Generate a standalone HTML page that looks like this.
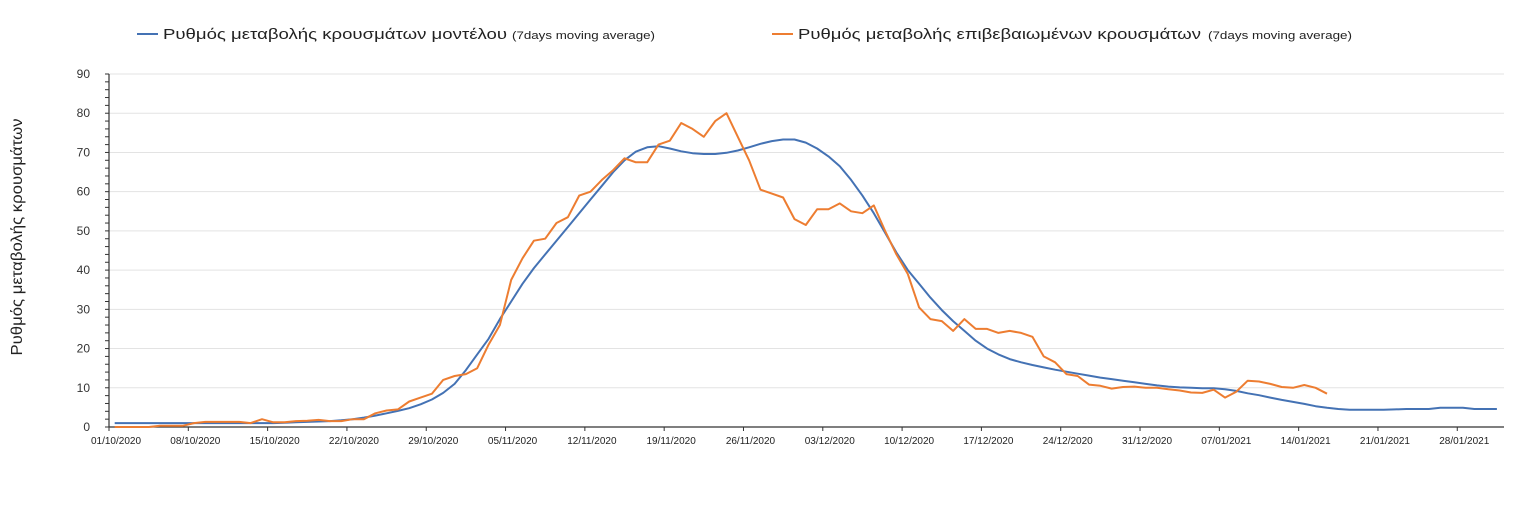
<!DOCTYPE html>
<html><head><meta charset="utf-8"><style>
body{margin:0;background:#fff;width:1540px;height:510px;overflow:hidden;font-family:"Liberation Sans",sans-serif}
svg text{font-family:"Liberation Sans","DejaVu Sans",sans-serif}
</style></head><body>
<svg id="chart" width="1540" height="510" xmlns="http://www.w3.org/2000/svg">
<g>
<g>
<line x1="137" y1="34" x2="158" y2="34" stroke="#4472b4" stroke-width="2"/>
<text x="163" y="39" font-size="15" fill="#222" textLength="344" lengthAdjust="spacingAndGlyphs">Ρυθμός μεταβολής κρουσμάτων μοντέλου</text>
<text x="512" y="39" font-size="11" fill="#222" textLength="143" lengthAdjust="spacingAndGlyphs">(7days moving average)</text>
</g>
<g>
<line x1="772" y1="34" x2="793" y2="34" stroke="#ed7d31" stroke-width="2"/>
<text x="798" y="39" font-size="15" fill="#222" textLength="403" lengthAdjust="spacingAndGlyphs">Ρυθμός μεταβολής επιβεβαιωμένων κρουσμάτων</text>
<text x="1208" y="39" font-size="11" fill="#222" textLength="144" lengthAdjust="spacingAndGlyphs">(7days moving average)</text>
</g>
</g>
<text transform="translate(22,237) rotate(-90)" text-anchor="middle" font-size="16" fill="#222" textLength="237" lengthAdjust="spacingAndGlyphs">Ρυθμός μεταβολής κρουσμάτων</text>
<g id="grid"></g><g id="axes"></g><g id="series"></g>
</svg>
<script>
const xTickLabels=["01/10/2020","08/10/2020","15/10/2020","22/10/2020","29/10/2020","05/11/2020","12/11/2020","19/11/2020","26/11/2020","03/12/2020","10/12/2020","17/12/2020","24/12/2020","31/12/2020","07/01/2021","14/01/2021","21/01/2021","28/01/2021"];
const yTicks=[0,10,20,30,40,50,60,70,80,90];
const modelValues=[1,1,1,1,1,1,1,1,1,1,1,1,1,1,1,1.1,1.2,1.3,1.4,1.5,1.7,2,2.4,2.9,3.5,4.1,4.8,5.8,7,8.7,11,14.5,18.5,22.5,27.5,32,36.5,40.5,44,47.5,51,54.5,58,61.5,65,68,70.2,71.3,71.6,71,70.3,69.8,69.6,69.6,69.9,70.5,71.3,72.2,72.9,73.3,73.3,72.5,71,69,66.5,63,59,54.5,49.5,44.5,40,36.5,33,29.8,27,24.5,22,20,18.5,17.3,16.5,15.8,15.2,14.6,14.1,13.6,13.1,12.6,12.2,11.8,11.4,11,10.6,10.3,10.1,10,9.9,9.9,9.6,9.2,8.6,8.1,7.5,6.9,6.4,5.9,5.3,4.9,4.6,4.4,4.4,4.4,4.4,4.5,4.6,4.6,4.6,4.9,4.9,4.9,4.6,4.6,4.6];
const confirmedValues=[0,0,0,0,0.3,0.3,0.3,1,1.3,1.3,1.3,1.3,1,2,1.2,1.2,1.5,1.6,1.8,1.5,1.5,2,2,3.5,4.2,4.5,6.5,7.5,8.5,12,13,13.5,15,21,26,37.5,43,47.5,48,52,53.5,59,60,63,65.5,68.5,67.5,67.5,72,73,77.5,76,74,78,80,74,68,60.5,59.5,58.5,53,51.5,55.5,55.5,57,55,54.5,56.5,50,44,39,30.5,27.5,27,24.5,27.5,25,25,24,24.5,24,23,18,16.5,13.5,13,10.8,10.5,9.8,10.2,10.3,10,10,9.6,9.3,8.8,8.7,9.5,7.5,9,11.8,11.6,11,10.2,10,10.7,10,8.5];
const X0=109,DX=11.33,Y0=427,YMAX=90,YH=353,XEND=1504;
const xs=d=>X0+d*DX, ys=v=>Y0-v/YMAX*YH;
const NS="http://www.w3.org/2000/svg";
function mk(tag,attrs,parent,txt){const e=document.createElementNS(NS,tag);for(const k in attrs)e.setAttribute(k,attrs[k]);if(txt!==undefined)e.textContent=txt;parent.appendChild(e);return e;}
const grid=document.getElementById('grid'),axes=document.getElementById('axes'),series=document.getElementById('series');
yTicks.forEach(v=>{
 if(v>0){const g=mk('line',{x1:X0,x2:XEND,y1:ys(v),y2:ys(v),stroke:'#e3e3e3','stroke-width':1},grid);
 
 }
 const t=mk('text',{x:X0-19,y:ys(v)+4,'text-anchor':'end','font-size':12,fill:'#333'},axes,String(v));
 
 
});
for(let v=0;v<=YMAX;v+=2){mk('line',{x1:X0-4,x2:X0,y1:ys(v),y2:ys(v),stroke:'#333','stroke-width':1},axes);}
const ya=mk('line',{x1:X0,x2:X0,y1:ys(YMAX),y2:Y0,stroke:'#333','stroke-width':1.2},axes);


const xa=mk('line',{x1:X0,x2:XEND,y1:Y0,y2:Y0,stroke:'#333','stroke-width':1.2},axes);


xTickLabels.forEach((l,i)=>{
 const x=xs(i*7);
 mk('line',{x1:x,x2:x,y1:Y0,y2:Y0+4,stroke:'#333'},axes);
 const t=mk('text',{x:x+7,y:Y0+17,'text-anchor':'middle','font-size':10,fill:'#222'},axes,l);
 
 
});
function line(vals,color,name){
 const p=mk('polyline',{points:vals.map((v,i)=>xs(i+0.5).toFixed(1)+','+ys(v).toFixed(1)).join(' '),fill:'none',stroke:color,'stroke-width':2,'stroke-linejoin':'round'},series);
 
 
}
line(modelValues,'#4472b4','model-line');
line(confirmedValues,'#ed7d31','confirmed-line');
</script>
</body></html>
